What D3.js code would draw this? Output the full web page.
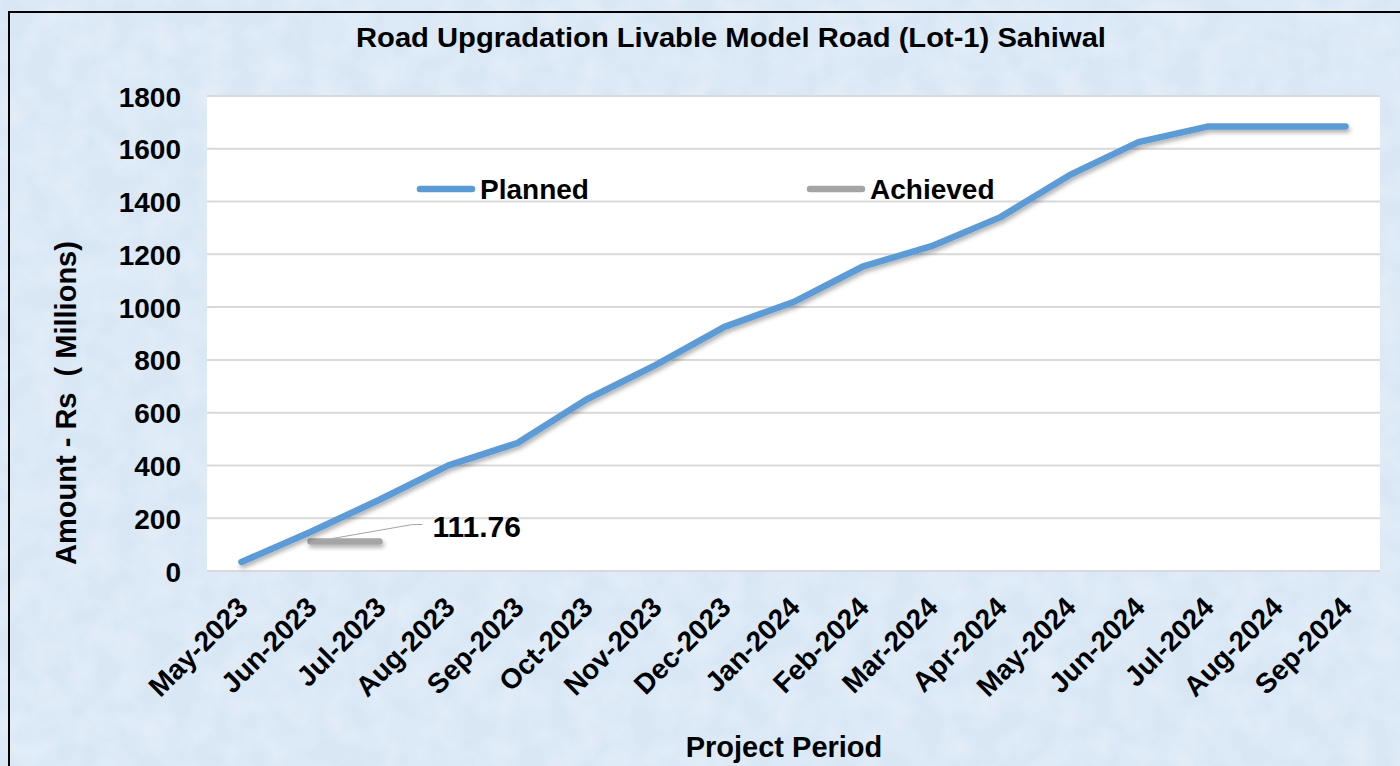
<!DOCTYPE html>
<html lang="en">
<head>
  <meta charset="UTF-8" />
  <title>Road Upgradation Livable Model Road (Lot-1) Sahiwal</title>
  <script src="https://d3js.org/d3.v7.min.js"></script>
  <style>
    body { margin: 0; background: #fff; }
    text { font-family: "Liberation Sans", Arial, sans-serif; font-weight: bold; fill: #000; }
  </style>
</head>
<body>
  <div id="chart"></div>

  <script>
    // data
    const months = ['May-2023', 'Jun-2023', 'Jul-2023', 'Aug-2023', 'Sep-2023', 'Oct-2023',
      'Nov-2023', 'Dec-2023', 'Jan-2024', 'Feb-2024', 'Mar-2024', 'Apr-2024',
      'May-2024', 'Jun-2024', 'Jul-2024', 'Aug-2024', 'Sep-2024'];
    const planned = [34, 148, 270, 400, 485, 650, 780, 925, 1019, 1153, 1231, 1341,
      1500, 1625, 1684, 1684, 1684];
    const achieved = [null, 111.76, 111.76, null, null, null, null, null, null, null,
      null, null, null, null, null, null, null];
    const yTicks = [0, 200, 400, 600, 800, 1000, 1200, 1400, 1600, 1800];

    const W = 1400, H = 766;
    let plot = {left: 207, right: 1380, top: 96, bottom: 571};

    let svg = d3.select('#chart')
      .append('svg')
        .attr('width', W)
        .attr('height', H);

    let defs = svg.append('defs');

    // mottled light blue background
    let tex = defs.append('filter').attr('id', 'tex')
      .attr('x', 0).attr('y', 0).attr('width', '100%').attr('height', '100%');
    tex.append('feTurbulence')
      .attr('type', 'fractalNoise').attr('baseFrequency', '0.035').attr('numOctaves', 3).attr('seed', 4);
    tex.append('feColorMatrix')
      .attr('type', 'matrix')
      .attr('values', '0 0 0 0 1  0 0 0 0 1  0 0 0 0 1  0 0 0 0.9 -0.3');

    // user space region so flat (zero height) lines still render
    let shadow = defs.append('filter').attr('id', 'shadow')
      .attr('filterUnits', 'userSpaceOnUse')
      .attr('x', 0).attr('y', 0).attr('width', W).attr('height', H);
    shadow.append('feDropShadow')
      .attr('dx', 1.5).attr('dy', 3).attr('stdDeviation', 2)
      .attr('flood-color', '#000').attr('flood-opacity', 0.3);

    svg.append('rect')
      .attr('width', W).attr('height', H)
      .attr('fill', '#d9e7f5');
    svg.append('rect')
      .attr('width', W).attr('height', H)
      .attr('filter', 'url(#tex)')
      .attr('opacity', 0.55);

    // frame (only top and left edges fall inside the picture)
    svg.append('rect')
      .attr('x', 9).attr('y', 12)
      .attr('width', W + 20).attr('height', H + 20)
      .attr('fill', 'none')
      .attr('stroke', '#000')
      .attr('stroke-width', 2);

    let x = d3.scaleBand()
      .domain(months)
      .range([plot.left, plot.right]);
    let cx = d => x(d) + x.bandwidth() / 2;

    let y = d3.scaleLinear()
      .domain([0, 1800])
      .range([plot.bottom, plot.top]);

    // plot area
    svg.append('rect')
      .attr('x', plot.left).attr('y', plot.top)
      .attr('width', plot.right - plot.left)
      .attr('height', plot.bottom - plot.top)
      .attr('fill', '#fff');

    // gridlines
    svg.append('g')
      .selectAll('line')
      .data(yTicks)
      .join('line')
        .attr('x1', plot.left).attr('x2', plot.right)
        .attr('y1', d => y(d)).attr('y2', d => y(d))
        .attr('stroke', '#d9d9d9')
        .attr('stroke-width', 2);

    // y axis labels
    let yAxis = svg.append('g')
      .attr('transform', 'translate(' + (plot.left - 26) + ',0)')
      .call(d3.axisLeft(y).tickValues(yTicks).tickFormat(d3.format('d')).tickSize(0).tickPadding(0));
    yAxis.select('.domain').remove();
    yAxis.selectAll('text')
      .style('font-size', '28px')
      .attr('dy', '0.36em');

    // x axis labels
    let xAxis = svg.append('g')
      .attr('transform', 'translate(0,' + plot.bottom + ')')
      .call(d3.axisBottom(x).tickSize(0).tickPadding(0));
    xAxis.select('.domain').remove();
    xAxis.selectAll('text')
      .style('font-size', '28px')
      .attr('text-anchor', 'end')
      .attr('dy', 0)
      .attr('y', 0)
      .attr('transform', 'translate(8,38) rotate(-45)');

    // lines
    let line = d3.line()
      .defined(d => d[1] != null)
      .x(d => cx(d[0]))
      .y(d => y(d[1]));

    svg.append('path')
      .datum(months.map((m, i) => [m, achieved[i]]))
      .attr('d', line)
      .attr('fill', 'none')
      .attr('stroke', '#a5a5a5')
      .attr('stroke-width', 6.5)
      .attr('stroke-linecap', 'round')
      .attr('stroke-linejoin', 'round')
      .attr('filter', 'url(#shadow)');

    svg.append('path')
      .datum(months.map((m, i) => [m, planned[i]]))
      .attr('d', line)
      .attr('fill', 'none')
      .attr('stroke', '#5b9bd5')
      .attr('stroke-width', 6.5)
      .attr('stroke-linecap', 'round')
      .attr('stroke-linejoin', 'round')
      .attr('filter', 'url(#shadow)');

    // data label for achieved
    let lx = cx(months[1]) + 22, ly = y(achieved[1]) - 3;
    svg.append('polyline')
      .attr('points', [[lx, ly], [lx + 80, y(achieved[1]) - 17], [lx + 90, y(achieved[1]) - 17]].join(' '))
      .attr('fill', 'none')
      .attr('stroke', '#a5a5a5')
      .attr('stroke-width', 1);
    svg.append('text')
      .attr('x', lx + 100)
      .attr('y', y(achieved[1]) - 5)
      .style('font-size', '30px')
      .text(d3.format('.2f')(achieved[1]));

    // legend
    let legend = [['Planned', '#5b9bd5', 420], ['Achieved', '#a5a5a5', 810]];
    let lg = svg.append('g').selectAll('g').data(legend).join('g')
      .attr('transform', d => 'translate(' + d[2] + ',189)');
    lg.append('line')
      .attr('x1', 0).attr('x2', 52)
      .attr('stroke', d => d[1])
      .attr('stroke-width', 6.5)
      .attr('stroke-linecap', 'round');
    lg.append('text')
      .attr('x', 60).attr('dy', '0.36em')
      .style('font-size', '28px')
      .text(d => d[0]);

    // titles
    svg.append('text')
      .attr('transform', 'translate(731,47) scale(1.08,1)')
      .attr('text-anchor', 'middle')
      .style('font-size', '27px')
      .text('Road Upgradation Livable Model Road (Lot-1) Sahiwal');

    svg.append('text')
      .attr('x', 784).attr('y', 757)
      .attr('text-anchor', 'middle')
      .style('font-size', '29px')
      .text('Project Period');

    svg.append('text')
      .attr('transform', 'translate(76,403) rotate(-90)')
      .attr('text-anchor', 'middle')
      .style('font-size', '29px')
      .style('white-space', 'pre')
      .text('Amount - Rs  ( Millions)');
  </script>
</body>
</html>
